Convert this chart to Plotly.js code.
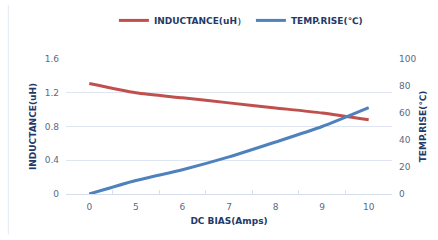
<!DOCTYPE html>
<html><head><meta charset="utf-8">
<script src="https://cdn.plot.ly/plotly-3.0.1.min.js"></script>
<style>html,body{margin:0;padding:0;background:#fff;}#c{width:438px;height:240px;}</style>
</head><body><div id="c"></div>
<script>
const categories = ['0','5','6','7','8','9','10'];
const inductance = [1.31, 1.20, 1.14, 1.08, 1.02, 0.96, 0.88];
const tempRise = [0, 10, 18, 27.5, 38.5, 50, 64];

const tickFont = {family:'DejaVu Sans, sans-serif', size:9, color:'#5a6a85'};
const titleFont = {family:'DejaVu Sans, sans-serif', size:9, color:'#1f3a68', weight:'bold'};

const data = [
  {x:categories, y:inductance, name:'INDUCTANCE(uH）', type:'scatter', mode:'lines',
   line:{color:'#c0504d', width:3, shape:'spline', smoothing:0.6}, yaxis:'y'},
  {x:categories, y:tempRise, name:'TEMP.RISE(℃)', type:'scatter', mode:'lines',
   line:{color:'#4f81bd', width:3, shape:'spline', smoothing:0.6}, yaxis:'y2'}
];

const layout = {
  width:438, height:240,
  margin:{l:66, r:46, t:59, b:46},
  paper_bgcolor:'#fff', plot_bgcolor:'#fff',
  showlegend:true,
  legend:{orientation:'h', x:0.55, xanchor:'center', xref:'container', y:0.915, yref:'container', yanchor:'middle',
    font:{family:'DejaVu Sans, sans-serif', size:9, color:'#1f3a68', weight:'bold'}, itemwidth:30, tracegroupgap:0},
  xaxis:{type:'category', range:[-0.5, 6.5], tickson:'boundaries', ticks:'inside', ticklen:4, tickcolor:'#d6dfec',
    showline:true, linecolor:'#d6dfec', linewidth:1, showgrid:false, zeroline:false,
    tickfont:tickFont, fixedrange:true, ticklabelstandoff:4,
    title:{text:'DC BIAS(Amps)', font:titleFont, standoff:6}},
  yaxis:{range:[0,1.6], dtick:0.4, tick0:0, showgrid:true, gridcolor:'#dfe6f1', gridwidth:1,
    zeroline:false, showline:false, ticks:'', tickfont:tickFont, tickformat:'.1~f', ticklabelstandoff:6,
    title:{text:'INDUCTANCE(uH)', font:titleFont, standoff:6}},
  yaxis2:{range:[0,100], dtick:20, overlaying:'y', side:'right', showgrid:false, zeroline:false,
    showline:false, ticks:'', tickfont:tickFont, ticklabelstandoff:6,
    title:{text:'TEMP.RISE(℃)', font:titleFont, standoff:4}},
  shapes:[{type:'line', xref:'paper', yref:'paper', x0:-0.177, x1:-0.177, y0:-0.3, y1:1.4,
    line:{color:'#e3e8f0', width:1}}]
};
Plotly.newPlot('c', data, layout, {displayModeBar:false, staticPlot:true});
</script>
</body></html>
